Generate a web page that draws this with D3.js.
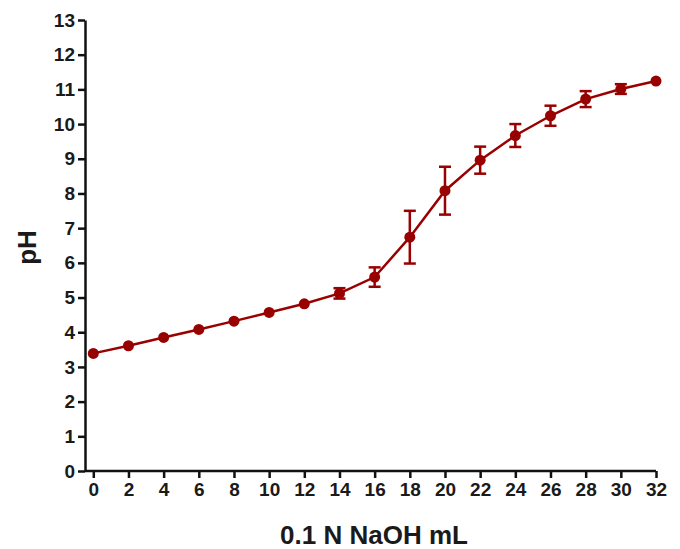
<!DOCTYPE html>
<html>
<head>
<meta charset="utf-8">
<script src="https://cdn.jsdelivr.net/npm/d3@7"></script>
<style>
  body { margin: 0; background: #fff; }
  text { font-family: Arial, "Liberation Sans", sans-serif; font-weight: bold; }
</style>
</head>
<body>
<div id="chart"></div>
<script>
// Titration data
const volume = [0, 2, 4, 6, 8, 10, 12, 14, 16, 18, 20, 22, 24, 26, 28, 30, 32];
const ph = [3.39, 3.61, 3.85, 4.08, 4.32, 4.57, 4.82, 5.12, 5.59, 6.74, 8.08, 8.96, 9.67, 10.24, 10.72, 11.01, 11.24];
const phErr = [0.03, 0.03, 0.03, 0.03, 0.03, 0.03, 0.03, 0.15, 0.28, 0.76, 0.69, 0.39, 0.33, 0.29, 0.23, 0.14, 0.03];
const xTicks = d3.range(0, 33, 2);
const yTicks = d3.range(0, 14, 1);

const data = volume.map((v, i) => ({ x: v, y: ph[i], e: phErr[i] }));

const width = 680, height = 549;
const margin = { top: 20, right: 24, bottom: 78, left: 85 };
const color = "#990000";

const svg = d3.select("#chart")
  .append("svg")
  .attr("width", width)
  .attr("height", height);

const xScale = d3.scaleLinear()
  .domain([0, 32])
  .range([93.3, 656]);

const yScale = d3.scaleLinear()
  .domain([0, 13])
  .range([471, 20]);

// Axes
const xAxis = svg.append("g")
  .attr("transform", `translate(0,${yScale(0)})`)
  .call(d3.axisBottom(xScale).tickValues(xTicks).tickSize(7).tickPadding(5).tickSizeOuter(0));

const yAxis = svg.append("g")
  .attr("transform", `translate(${margin.left},0)`)
  .call(d3.axisLeft(yScale).tickValues(yTicks).tickSize(7).tickPadding(3).tickSizeOuter(0));

// x axis line starts at the y axis
xAxis.select(".domain").attr("d", `M${margin.left},0H${xScale(32)}`);

[xAxis, yAxis].forEach(g => {
  g.select(".domain").attr("stroke", "#111").attr("stroke-width", 2.5);
  g.selectAll(".tick line").attr("stroke", "#111").attr("stroke-width", 2.5);
  g.selectAll(".tick text")
    .attr("fill", "#1a1a1a")
    .style("font-size", "19px")
    .style("font-weight", "bold")
    .style("font-family", "Arial, 'Liberation Sans', sans-serif");
});

// Axis titles
svg.append("text")
  .attr("x", 374)
  .attr("y", 544)
  .attr("text-anchor", "middle")
  .attr("fill", "#1a1a1a")
  .style("font-size", "26px")
  .text("0.1 N NaOH mL");

svg.append("text")
  .attr("transform", `translate(36,${yScale(6.5) + 2}) rotate(-90)`)
  .attr("text-anchor", "middle")
  .attr("fill", "#1a1a1a")
  .style("font-size", "26px")
  .text("pH");

// Line
const line = d3.line()
  .x(d => xScale(d.x))
  .y(d => yScale(d.y));

svg.append("path")
  .datum(data)
  .attr("fill", "none")
  .attr("stroke", color)
  .attr("stroke-width", 2.5)
  .attr("d", line);

// Error bars
const err = svg.append("g")
  .selectAll("g")
  .data(data.filter(d => d.e > 0.1))
  .enter()
  .append("g")
  .attr("stroke", color)
  .attr("stroke-width", 2.5);

err.append("line")
  .attr("x1", d => xScale(d.x))
  .attr("x2", d => xScale(d.x))
  .attr("y1", d => yScale(d.y - d.e))
  .attr("y2", d => yScale(d.y + d.e));

err.append("line")
  .attr("x1", d => xScale(d.x) - 6)
  .attr("x2", d => xScale(d.x) + 6)
  .attr("y1", d => yScale(d.y + d.e))
  .attr("y2", d => yScale(d.y + d.e));

err.append("line")
  .attr("x1", d => xScale(d.x) - 6)
  .attr("x2", d => xScale(d.x) + 6)
  .attr("y1", d => yScale(d.y - d.e))
  .attr("y2", d => yScale(d.y - d.e));

// Points
svg.selectAll(".dot")
  .data(data)
  .enter()
  .append("circle")
  .attr("class", "dot")
  .attr("cx", d => xScale(d.x))
  .attr("cy", d => yScale(d.y))
  .attr("r", 5.5)
  .attr("fill", color);
</script>
</body>
</html>
